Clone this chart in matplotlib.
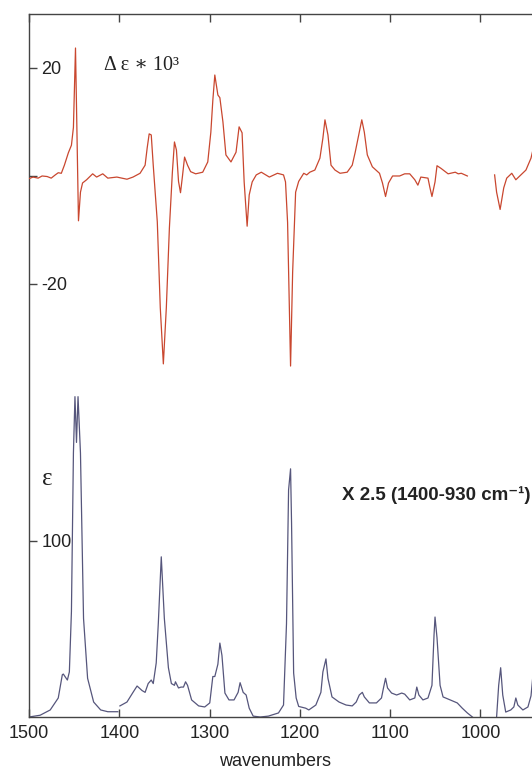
import matplotlib
matplotlib.use("Agg")
import matplotlib.pyplot as plt

# VCD trace (delta epsilon * 10^3), two pieces
vcd_wn_a = [1500, 1495.5, 1489.9, 1485.5, 1479.9, 1475.4, 1470.9, 1467.6, 1464.2, 1460.8,
            1456.4, 1453.0, 1450.8, 1448.5, 1445.2, 1443.0, 1440.7, 1436.2, 1429.5, 1425.1,
            1418.3, 1412.7, 1402.7, 1391.5, 1384.8, 1377.0, 1371.4, 1369.1, 1366.9, 1364.6,
            1362.4, 1357.9, 1354.6, 1351.2, 1347.9, 1344.5, 1341.2, 1338.9, 1336.7, 1334.4,
            1332.2, 1330.0, 1327.7, 1324.4, 1321.0, 1315.4, 1307.6, 1302.0, 1298.6, 1296.4,
            1294.2, 1290.8, 1288.6, 1285.2, 1281.9, 1276.3, 1270.7, 1267.3, 1264.0, 1261.7,
            1258.4, 1256.1, 1252.8, 1248.3, 1242.7, 1233.8, 1224.8, 1218.1, 1215.9, 1213.6,
            1210.3, 1208.0, 1204.7, 1201.3, 1195.7, 1192.4, 1189.0, 1183.4, 1177.8, 1174.5,
            1172.2, 1168.9, 1165.5, 1161.1, 1155.5, 1147.6, 1142.0, 1138.7, 1134.2, 1131.4,
            1128.6, 1125.3, 1119.7, 1111.8, 1108.5, 1105.1, 1101.8, 1097.3, 1089.5, 1083.9,
            1078.3, 1072.7, 1069.3, 1066.0, 1058.1, 1055.9, 1053.7, 1050.3, 1048.1, 1043.6,
            1035.8, 1027.9, 1024.6, 1021.2, 1014.5]
vcd_a = [-0.5, -0.2, -0.4, 0.0, -0.1, -0.4, 0.2, 0.6, 0.5, 2.0,
         4.3, 5.7, 9.0, 23.7, -8.3, -3.0, -1.3, -0.7, 0.4, -0.2,
         0.4, -0.4, -0.2, -0.6, -0.2, 0.5, 2.0, 5.2, 7.8, 7.6,
         2.0, -8.5, -24.4, -34.8, -24.4, -9.6, 0.7, 6.3, 4.8, -1.0,
         -3.1, 0.0, 3.5, 2.0, 0.8, 0.4, 0.7, 2.6, 8.1, 14.0,
         18.7, 15.0, 14.5, 10.0, 3.9, 2.6, 4.4, 9.1, 8.0, -1.1,
         -9.3, -3.5, -1.1, 0.2, 0.7, -0.2, 0.5, 0.2, -1.1, -8.6,
         -35.2, -17.8, -3.0, -1.0, 0.5, 0.2, 0.7, 1.1, 3.3, 7.0,
         10.4, 7.6, 2.0, 1.1, 0.5, 0.7, 2.0, 4.4, 8.1, 10.4,
         8.1, 3.9, 1.7, 0.5, -1.3, -3.8, -1.3, 0.0, 0.0, 0.4,
         0.4, -0.7, -1.7, -0.2, -0.4, -2.2, -3.8, -1.1, 1.9, 1.4,
         0.4, 0.7, 0.4, 0.5, 0.0]
vcd_wn_b = [984.3, 982.1, 978.2, 974.2, 970.9, 965.3, 960.8, 955.2, 949.6, 944.0, 940.1, 937.3]
vcd_b = [0.2, -3.0, -6.2, -2.2, -0.4, 0.5, -0.7, 0.2, 1.1, 3.3, 6.1, 4.2]

# IR trace (epsilon), 1400-930 part shown x 2.5
ir_wn_a = [1500, 1487.7, 1476.5, 1467.6, 1463.1, 1462.0, 1457.5, 1455.3, 1453.0, 1450.8,
           1449.1, 1447.4, 1445.7, 1443.0, 1439.6, 1435.1, 1428.4, 1420.6, 1412.7, 1401.6]
ir_a = [0, 1, 4, 10.8, 24, 24.4, 21, 25.6, 60, 150,
        182, 156, 182, 150, 56, 22, 8.5, 4, 3, 3]
ir_wn_b = [1399.3, 1391.5, 1384.8, 1380.3, 1374.7, 1371.4, 1368.0, 1364.6, 1362.4, 1359.1,
           1356.8, 1353.5, 1350.1, 1345.6, 1342.3, 1338.9, 1337.8, 1334.4, 1331.6, 1328.9,
           1326.6, 1324.4, 1319.9, 1312.1, 1305.4, 1299.8, 1296.4, 1294.2, 1290.8, 1288.6,
           1286.3, 1283.0, 1278.5, 1272.9, 1268.4, 1266.2, 1262.8, 1259.5, 1256.1, 1251.7,
           1243.9, 1234.9, 1223.7, 1218.1, 1214.8, 1212.5, 1210.3, 1209.2, 1206.9, 1204.1,
           1201.3, 1193.5, 1190.1, 1182.3, 1176.7, 1174.5, 1171.1, 1168.9, 1164.4, 1156.6,
           1148.8, 1142.0, 1137.6, 1134.2, 1130.8, 1128.6, 1123.0, 1115.2, 1109.6, 1107.4,
           1105.1, 1102.9, 1098.4, 1092.8, 1087.2, 1083.9, 1078.3, 1072.7, 1070.5, 1068.2,
           1063.7, 1058.1, 1053.7, 1051.4, 1050.3, 1048.1, 1044.7, 1041.4, 1033.5, 1025.7,
           1020.1, 1014.5, 1008.9]
ir_b = [6.3, 8.5, 14, 17.6, 15, 14, 19, 21, 19, 30.7,
        53, 91, 56, 28, 19, 18, 20, 16.5, 17, 17,
        20, 18, 9.7, 6.3, 5.7, 8, 23, 23, 30, 42,
        35, 13.6, 9.7, 9.7, 14, 19.5, 14, 12.5, 5, 0.5,
        0, 0.5, 2.3, 6.8, 53, 129, 141, 110, 25, 10.8,
        6, 5, 4, 6.8, 14, 25.6, 33, 22, 11.4, 8.5,
        6.8, 6.3, 8.5, 12.5, 14, 11.4, 8, 8, 10.8, 16.5,
        22, 16.5, 13.6, 12.5, 13.6, 13, 9.7, 10.8, 17, 12.5,
        9.7, 10.8, 18, 46.6, 56.8, 45, 18, 11.4, 9.7, 8,
        5, 2.3, 0]
ir_wn_c = [982.1, 979.8, 977.6, 975.3, 972.0, 966.4, 963.0, 960.8, 958.6, 953.0,
           947.4, 944.0, 941.8, 940.1, 937.3]
ir_c = [0, 18, 28, 12.5, 2.8, 4, 5.7, 10.8, 6.8, 4,
        5.7, 12, 24, 34.7, 24]

vcd_color = '#c9472f'
ir_color = '#56567c'
spine_color = '#444444'
txt_color = '#222222'

fig = plt.figure(figsize=(5.32, 7.71), dpi=100)
rect = [29 / 532, 1 - 717 / 771, 1 - 29 / 532 + 0.01, (717 - 14) / 771]

# lower trace axes (IR)
ax = fig.add_axes(rect)
ax.plot(ir_wn_a, ir_a, color=ir_color, lw=0.9)
ax.plot(ir_wn_b, ir_b, color=ir_color, lw=0.9)
ax.plot(ir_wn_c, ir_c, color=ir_color, lw=0.9)
ax.set_xlim(1500, 937)
ax.set_ylim(0, 399.4)
ax.set_xticks([1500, 1400, 1300, 1200, 1100, 1000])
ax.set_yticks([100])
ax.tick_params(axis='x', direction='in', top=True, length=6, width=1,
               labelsize=13, pad=6, colors=spine_color, labelcolor=txt_color)
ax.tick_params(axis='y', direction='in', length=6, width=1,
               labelsize=13, pad=-9, colors=spine_color, labelcolor=txt_color)
for side in ['left', 'top', 'bottom']:
    ax.spines[side].set_color(spine_color)
    ax.spines[side].set_linewidth(1)
ax.spines['right'].set_visible(False)
for lab in ax.get_xticklabels() + ax.get_yticklabels():
    lab.set_fontfamily('Liberation Sans')
for lab in ax.get_yticklabels():
    lab.set_horizontalalignment('left')

# upper trace axes (VCD), same box
ax2 = fig.add_axes(rect, sharex=ax)
ax2.patch.set_alpha(0)
ax2.plot(vcd_wn_a, vcd_a, color=vcd_color, lw=0.9)
ax2.plot(vcd_wn_b, vcd_b, color=vcd_color, lw=0.9)
ax2.set_ylim(-100.2, 30)
ax2.set_yticks([-20, 0, 20])
ax2.set_yticklabels(['-20', '', '20'], fontfamily='Liberation Sans')
ax2.tick_params(axis='y', direction='in', length=6, width=1,
                labelsize=13, pad=-9, colors=spine_color, labelcolor=txt_color)
for lab in ax2.get_yticklabels():
    lab.set_horizontalalignment('left')
ax2.tick_params(axis='x', bottom=False, labelbottom=False)
for s in ax2.spines.values():
    s.set_visible(False)

fig.text(104 / 532, 1 - 66 / 771, 'Δ ε ∗ 10³',
         family=['Liberation Serif', 'DejaVu Serif', 'DejaVu Sans'],
         fontsize=14.5, ha='left', va='center', color=txt_color)
fig.text(42 / 532, 1 - 479 / 771, 'ε', family='Liberation Serif',
         fontsize=18, ha='left', va='center', color=txt_color)
fig.text(342 / 532, 1 - 495 / 771, 'X 2.5 (1400-930 cm⁻¹)',
         family=['Liberation Sans', 'DejaVu Sans'], fontweight='bold',
         fontsize=13.5, ha='left', va='center', color=txt_color)
fig.text(275 / 532, 1 - 762 / 771, 'wavenumbers', family='Liberation Sans',
         fontsize=13, ha='center', va='center', color=txt_color)

fig.savefig('out.png', dpi=100)
